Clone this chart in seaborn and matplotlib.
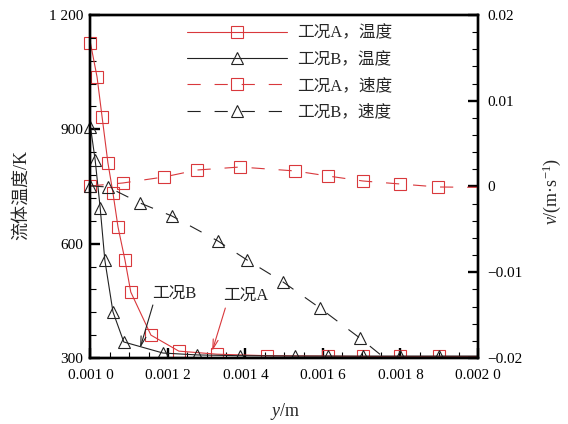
import matplotlib
matplotlib.use("Agg")
import matplotlib.pyplot as plt
import matplotlib.ticker as mticker
from matplotlib.transforms import Bbox, TransformedBbox
import seaborn as sns
import numpy as np

# DATA
tempA_x = [0.001000, 0.001017, 0.001030, 0.001045, 0.001058, 0.001071, 0.001089, 0.001104,
           0.001156, 0.001228, 0.001326, 0.001455, 0.001613, 0.001703, 0.001799, 0.001899, 0.002000]
tempA_T = [1126, 1037, 932, 812, 733, 644, 557, 473, 360, 318, 310, 306, 305, 304, 304, 304, 304]

tempB_x = [0.001000, 0.001012, 0.001025, 0.001037, 0.001058, 0.001086, 0.001187, 0.001275,
           0.001386, 0.001528, 0.001613, 0.001703, 0.001799, 0.001899, 0.002000]
tempB_T = [906, 820, 694, 557, 421, 342, 313, 308, 306, 305, 305, 305, 305, 305, 305]

velA_x = [0.001000, 0.001084, 0.001190, 0.001275, 0.001386, 0.001528, 0.001613, 0.001703,
          0.001799, 0.001897, 0.002000]
velA_v = [0.00006, 0.00041, 0.00111, 0.00192, 0.00227, 0.00181, 0.00122, 0.00064,
          0.00029, -0.00006, -0.0001]

velB_x = [0.001000, 0.001045, 0.001128, 0.001210, 0.001329, 0.001404, 0.001497, 0.001592,
          0.001695, 0.001800]
velB_v = [0.00006, -0.00006, -0.00193, -0.00344, -0.00636, -0.00857, -0.01114, -0.01417,
          -0.01767, -0.0215]

legend_labels = ["工况A，温度", "工况B，温度", "工况A，速度", "工况B，速度"]

x_ticks = [0.0010, 0.0012, 0.0014, 0.0016, 0.0018, 0.0020]
x_ticklabels = ["0.001 0", "0.001 2", "0.001 4", "0.001 6", "0.001 8", "0.002 0"]
t_ticks = [300, 600, 900, 1200]
t_ticklabels = ["300", "600", "900", "1 200"]
v_ticks = [-0.02, -0.01, 0.0, 0.01, 0.02]
v_ticklabels = ["\u22120.02", "\u22120.01", "0", "0.01", "0.02"]

RED = "#d9383c"
BLACK = "#222222"

sns.set_style("ticks")
plt.rcParams["font.family"] = ["Liberation Serif", "Noto Sans CJK SC"]
plt.rcParams["mathtext.fontset"] = "custom"
plt.rcParams["mathtext.rm"] = "Liberation Serif"
plt.rcParams["mathtext.it"] = "Liberation Serif:italic"
plt.rcParams["lines.scale_dashes"] = False

fig = plt.figure(figsize=(5.68, 4.24), dpi=100)
ax = fig.add_axes([0.1593, 0.1557, 0.6822, 0.8090])
ax2 = ax.twinx()

common = dict(estimator=None, lw=0.8, markersize=8.5, markerfacecolor="none",
              markeredgewidth=0.8, legend=False)

sns.lineplot(x=tempA_x, y=tempA_T, ax=ax, color=RED, marker="s", markeredgecolor=RED,
             markevery=slice(0, -1), **common)
hA = ax.lines[-1]
sns.lineplot(x=tempB_x, y=tempB_T, ax=ax, color=BLACK, marker="^", markeredgecolor=BLACK,
             markevery=slice(0, -1), **common)
hB = ax.lines[-1]

sns.lineplot(x=velA_x, y=velA_v, ax=ax2, color=RED, marker="s", markeredgecolor=RED,
             markevery=slice(0, -1), linestyle="--", **common)
hC = ax2.lines[-1]
hC.set_dashes([9.5, 10])
sns.lineplot(x=velB_x, y=velB_v, ax=ax2, color=BLACK, marker="^", markeredgecolor=BLACK,
             linestyle="--", **common)
hD = ax2.lines[-1]
hD.set_dashes([9.5, 10])
hB.set_markersize(9)
hD.set_markersize(9)

# let markers overhang the left spine, but clip at the bottom
for a, h in ((ax, hA), (ax, hB), (ax2, hC), (ax2, hD)):
    h.set_clip_path(None)
    h.set_clip_box(TransformedBbox(Bbox([[-0.05, 0.0], [1.05, 1.05]]), a.transAxes))

# axes limits / ticks
ax.set_xlim(0.0010, 0.0020)
ax.set_ylim(300, 1200)
ax2.set_ylim(-0.02, 0.02)

ax.set_xticks(x_ticks)
ax.set_xticklabels(x_ticklabels)
ax.xaxis.set_minor_locator(mticker.MultipleLocator(0.00005))
ax.set_yticks(t_ticks)
ax.set_yticklabels(t_ticklabels)
ax.yaxis.set_minor_locator(mticker.MultipleLocator(60))
ax2.set_yticks(v_ticks)
ax2.set_yticklabels(v_ticklabels)
ax2.yaxis.set_minor_locator(mticker.MultipleLocator(0.002))

for a in (ax, ax2):
    for s in a.spines.values():
        s.set_linewidth(1.7)
        s.set_color("black")
        s.set_visible(True)
    a.tick_params(which="major", direction="in", length=7, width=1.7, labelsize=11,
                  pad=5, colors="black")
    a.tick_params(which="minor", direction="in", length=4, width=0.8, colors="black")
ax.tick_params(which="both", top=False, right=False)
ax.tick_params(axis="x", pad=8)
ax2.tick_params(which="both", left=False, right=True, top=False)
ax2.tick_params(axis="y", pad=7)

# labels
ax.set_xlabel("$y$/m", fontsize=13)
ax.set_ylabel("流体温度/K", fontsize=13)
ax2.set_ylabel("$v$/(m·s$^{-1}$)", fontsize=13, rotation=90)
for lab in (ax.xaxis.label, ax.yaxis.label, ax2.yaxis.label):
    lab.set_va("center")
    lab.set_ha("center")
ax.xaxis.set_label_coords(0.502, -0.157)
ax.yaxis.set_label_coords(-0.177, 0.475)
ax2.yaxis.set_label_coords(1.19, 0.487)

# annotations
arrow_kw = dict(arrowstyle="->,head_length=0.7,head_width=0.18", lw=0.8,
                shrinkA=0, shrinkB=0)
ax.annotate("", xy=(0.001128, 326), xytext=(0.001161, 439),
            arrowprops=dict(color=BLACK, **arrow_kw))
ax.text(0.001159, 468, "工况B", fontsize=12, color=BLACK, ha="left", va="center")
ax.annotate("", xy=(0.001314, 318), xytext=(0.001348, 431),
            arrowprops=dict(color=RED, **arrow_kw))
ax.text(0.001343, 463, "工况A", fontsize=12, color=BLACK, ha="left", va="center")

# legend
leg = ax2.legend([hA, hB, hC, hD], legend_labels, loc="upper left",
                 bbox_to_anchor=(187 / 568, 1 - 25.5 / 424), bbox_transform=fig.transFigure,
                 frameon=False, fontsize=12, handlelength=6.0, handletextpad=0.6,
                 labelspacing=0.62, borderpad=0, borderaxespad=0)

fig.savefig("out.png", dpi=100)
plt.close()
